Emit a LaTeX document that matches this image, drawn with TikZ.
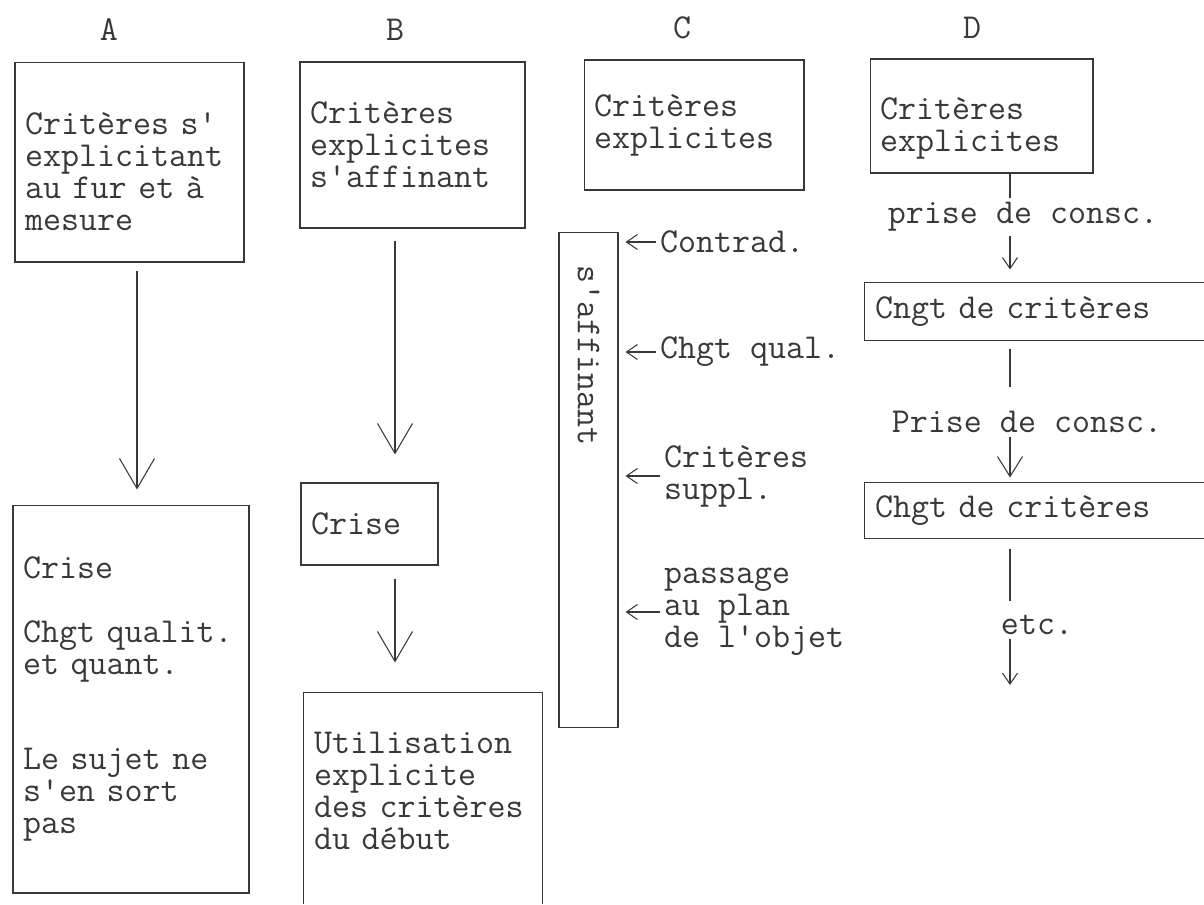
\documentclass[tikz,border=0pt]{standalone}
\usepackage{fontspec}
\setmonofont{Latin Modern Mono}[WordSpace={1,0,0}]
\usetikzlibrary{arrows.meta}

\begin{document}
\begin{tikzpicture}[x=0.02cm, y=-0.02cm, line width=0.6pt, color=black!78,
    every node/.style={font=\ttfamily\fontsize{19.9}{18.2}\selectfont, inner sep=2pt},
    box/.style={draw, align=left, inner xsep=0.2cm, inner ysep=0pt},
    openbox/.style={align=left, inner xsep=0.2cm, inner ysep=0pt},
    bigtip/.style={-{Straight Barb[length=0.6cm, width=0.7cm]}},
    medtip/.style={-{Straight Barb[length=0.4cm, width=0.5cm]}},
    smalltip/.style={-{Straight Barb[length=0.22cm, width=0.3cm]}}]
    \useasboundingbox (0,0) rectangle (1204,904);

    \node (la) at (109,30) {A};
    \node (lb) at (395,30) {B};
    \node (lc) at (682,28) {C};
    \node (ld) at (972,28) {D};

    \node (a1) [box, text width=4.18cm, minimum height=4cm] at (129.5,162) {\rule{0pt}{23pt}Critères s'\\explicitant\\au fur et à\\mesure};
    \node (a2) [box, text width=4.32cm, minimum height=7.76cm] at (131,699) {Crise\\~\\Chgt qualit.\\et quant.\\~\\~\\Le sujet ne\\s'en sort\\pas};

    \node (b1) [box, text width=4.1cm, minimum height=3.32cm] at (412.5,145) {Critères\\explicites\\s'affinant};
    \node (b2) [box, text width=2.34cm, minimum height=1.64cm] at (369.5,524) {Crise};
    \node (b3) [openbox, text width=4.36cm, minimum height=3.92cm] at (423,791) {Utilisation\\explicite\\des critères\\du début};
    \draw (b3.south west) ++(0,14) -- (b3.north west) -- (b3.north east) -- (b3.south east) -- ++(0,14);

    \node (c1) [box, text width=4cm, minimum height=2.6cm] at (694,125) {Critères\\explicites};
    \node (cbar) [draw, inner sep=0pt, minimum width=1.18cm, minimum height=9.92cm] at (588.5,480) {};
    \node (saff) [rotate=-90, anchor=west] at ([yshift=-0.6cm]cbar.north) {s'affinant};
    \node (contrad) [anchor=west] at (656,242) {Contrad.};
    \node (chgtq) [anchor=west] at (656,352) {Chgt qual.};
    \node (suppl) [anchor=west, align=left] at (660,476) {Critères\\suppl.};
    \node (passage) [anchor=west, align=left] at (660,612) {passage\\au plan\\de l'objet};

    \node (d1) [box, text width=4.06cm, minimum height=2.28cm] at (981.5,116) {\rule{0pt}{27pt}Critères\\explicites};
    \node (prise1) at (1023,217) {prise de consc.};
    \node (d2) [openbox, text width=6.36cm, minimum height=1.14cm] at (1034,311.5) {Cngt de critères};
    \draw (d2.north east) -- (d2.north west) -- (d2.south west) -- (d2.south east);
    \node (prise2) at (1027,422) {Prise de consc.};
    \node (d3) [openbox, text width=6.36cm, minimum height=1.1cm] at (1034,510.5) {Chgt de critères};
    \draw (d3.north east) -- (d3.north west) -- (d3.south west) -- (d3.south east);
    \node (etc) at (1037,625) {etc.};

    \coordinate (ax) at (137,0);
    \coordinate (bx) at (395,0);
    \coordinate (dx) at (1010,0);
    \coordinate (dend) at (1010,685);

    \draw[bigtip, shorten <=0.16cm, shorten >=0.3cm] (a1.south -| ax) -- (a2.north -| ax);
    \draw[bigtip, shorten <=0.24cm, shorten >=0.56cm] (b1.south -| bx) -- (b2.north -| bx);
    \draw[bigtip, shorten <=0.26cm, shorten >=0.6cm] (b2.south -| bx) -- (b3.north -| bx);

    \draw[smalltip, shorten >=0.14cm] (contrad.west) -- (contrad.west -| cbar.east);
    \draw[smalltip, shorten >=0.14cm] (chgtq.west) -- (chgtq.west -| cbar.east);
    \draw[smalltip, shorten >=0.14cm] (suppl.west) -- (suppl.west -| cbar.east);
    \draw[smalltip, shorten >=0.14cm] (passage.west) -- (passage.west -| cbar.east);

    \draw (d1.south -| dx) -- (prise1.north -| dx);
    \draw[smalltip, shorten >=0.26cm] (prise1.south -| dx) -- (d2.north -| dx);
    \draw[shorten <=0.16cm, shorten >=0.4cm] (d2.south -| dx) -- (prise2.north -| dx);
    \draw[medtip, shorten >=0.1cm] (prise2.south -| dx) -- (d3.north -| dx);
    \draw[shorten <=0.2cm, shorten >=0.2cm] (d3.south -| dx) -- (etc.north -| dx);
    \draw[smalltip] (etc.south -| dx) -- (dend);
\end{tikzpicture}
\end{document}
